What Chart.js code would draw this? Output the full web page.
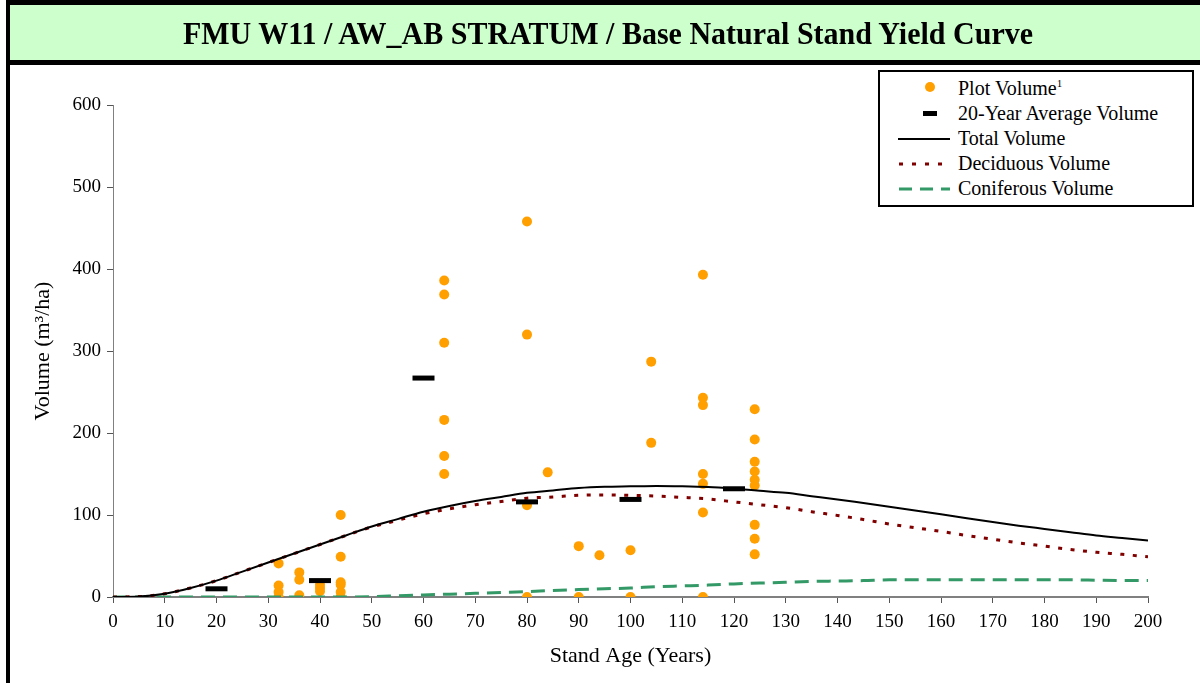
<!DOCTYPE html>
<html>
<head>
<meta charset="utf-8">
<script src="https://cdn.jsdelivr.net/npm/chart.js@4"></script>
<style>
  html, body { margin:0; padding:0; background:#fff; }
  #wrap { position:relative; width:1200px; height:683px; overflow:hidden; font-family:"Liberation Serif","Times New Roman",serif; }
  #titlebox { position:absolute; left:6px; top:0; width:1200px; height:65px; background:#ccffcc; border-top:5px solid #000; border-left:4px solid #000; border-bottom:5px solid #000; box-sizing:border-box; }
  #title { position:absolute; left:0; top:5px; width:1216px; height:55px; line-height:55px; text-align:center; font-weight:bold; font-size:30px; color:#000; transform:scaleY(1.08); }
  #leftbar { position:absolute; left:6px; top:0; width:4px; height:683px; background:#000; }
  #cv { position:absolute; left:0; top:0; }
  #legend { position:absolute; left:878px; top:70px; width:316px; height:137px; border:2px solid #000; box-sizing:border-box; background:#fff; font-size:20px; }
  .row { position:absolute; left:0; height:25px; width:100%; }
  .row span.t { position:absolute; left:78px; top:0px; white-space:nowrap; line-height:25px; }
  .row svg { position:absolute; left:0; top:0; }
  .sup { font-size:11px; position:relative; top:-8px; }
</style>
</head>
<body>
<div id="wrap">
  <canvas id="cv" width="1200" height="683"></canvas>
  <div id="titlebox"></div>
  <div id="title">FMU W11 / AW_AB STRATUM / Base Natural Stand Yield Curve</div>
  <div id="leftbar"></div>
  <div id="legend">
    <div class="row" style="top:4px"><svg width="70" height="25"><circle cx="50" cy="11" r="5" fill="#ff9f00"/></svg><span class="t">Plot Volume<span class="sup">1</span></span></div>
    <div class="row" style="top:29px"><svg width="70" height="25"><rect x="43" y="10" width="14" height="5" fill="#000"/></svg><span class="t">20-Year Average Volume</span></div>
    <div class="row" style="top:54px"><svg width="70" height="25"><line x1="18" y1="13" x2="76" y2="13" stroke="#000" stroke-width="2"/></svg><span class="t">Total Volume</span></div>
    <div class="row" style="top:79px"><svg width="70" height="25"><line x1="19" y1="13" x2="78" y2="13" stroke="#800000" stroke-width="3" stroke-dasharray="4 9"/></svg><span class="t">Deciduous Volume</span></div>
    <div class="row" style="top:104px"><svg width="70" height="25"><line x1="19" y1="13" x2="78" y2="13" stroke="#339966" stroke-width="3" stroke-dasharray="13 8"/></svg><span class="t">Coniferous Volume</span></div>
  </div>
</div>
<script>
// ---- data ----
const curveAges = [0,5,10,15,20,25,30,35,40,45,50,55,60,65,70,75,80,85,90,95,100,105,110,115,120,125,130,135,140,145,150,155,160,165,170,175,180,185,190,195,200];
const totalVolume = [0,0.5,4,11,20,31,42,53,64,75,86,95,104,111,117,122,127,130,133,134.5,135,135.5,135,134,132,129.5,127,123,119,114.5,110,105.5,101,96,91.5,87,83,79,75,72,69];
const deciduousVolume = [0,0.5,4,11,20,31,42,53,64,75,85.5,93.5,101.5,107.5,112.5,116.5,120.5,122,124,124.5,124,123,121.5,119.5,116,112.5,109,104,99.5,94.5,89,84.5,80,75,70.5,66,62,58,54.5,52,49];
const coniferousVolume = [0,0,0,0,0,0,0,0,0,0,0.5,1.5,2.5,3.5,4.5,5.5,6.5,8,9,10,11,12.5,13.5,14.5,16,17,18,19,19.5,20,21,21,21,21,21,21,21,21,20.5,20,20];

const plotAges = [32,32,32,32, 36,36,36, 40,40,40, 44,44,44,44,44,44, 64,64,64,64,64,64, 80,80,80,80, 84, 90,90, 94, 100,100, 104,104, 114,114,114,114,114,114,114, 124,124,124,124,124,124,124,124,124];
const plotVolumes = [41,14,6,0, 30,21,2, 15,11,7, 100,49,18,15,6,0, 386,369,310,216,172,150, 458,320,112,0, 152, 62,0, 51, 57,0, 287,188, 393,243,234,150,138,103,0, 229,192,165,153,143,136,88,71,52];

const avgAges = [20,40,60,80,100,120];
const avgVolumes = [10,20,267,116,119,132];

const xTicks = [0,10,20,30,40,50,60,70,80,90,100,110,120,130,140,150,160,170,180,190,200];
const yTicks = [0,100,200,300,400,500,600];

const pts = (xs, ys) => xs.map((x, i) => ({x: x, y: ys[i]}));

const serif = "'Liberation Serif','Times New Roman',serif";
const tickFont = {family: serif, size: 19};
const titleFont = {family: serif, size: 22};

new Chart(document.getElementById('cv'), {
  type: 'scatter',
  data: {
    datasets: [
      { label:'20-Year Average Volume', data: pts(avgAges, avgVolumes), pointStyle:'line', pointRadius:11, pointHoverRadius:11, borderColor:'#000', borderWidth:5, backgroundColor:'#000', order:0 },
      { label:'Plot Volume', data: pts(plotAges, plotVolumes), pointStyle:'circle', pointRadius:5, pointHoverRadius:5, backgroundColor:'#ff9f00', borderColor:'#ff9f00', borderWidth:0, order:3 },
      { label:'Total Volume', data: pts(curveAges, totalVolume), showLine:true, pointRadius:0, borderColor:'#000', borderWidth:2, cubicInterpolationMode:'monotone', order:1 },
      { label:'Deciduous Volume', data: pts(curveAges, deciduousVolume), showLine:true, pointRadius:0, borderColor:'#800000', borderWidth:3, borderDash:[4,8.5], cubicInterpolationMode:'monotone', order:2 },
      { label:'Coniferous Volume', data: pts(curveAges, coniferousVolume), showLine:true, pointRadius:0, borderColor:'#339966', borderWidth:3, borderDash:[14,8], cubicInterpolationMode:'monotone', order:2 }
    ]
  },
  options: {
    responsive:false,
    animation:false,
    layout:{ padding:{ left:30, right:52, top:105, bottom:14 } },
    plugins:{ legend:{display:false}, tooltip:{enabled:false}, title:{display:false} },
    scales:{
      x:{
        type:'linear', min:0, max:200,
        afterBuildTicks:(s)=>{ s.ticks = xTicks.map(v=>({value:v})); },
        afterFit:(s)=>{ s.height = 72; },
        grid:{ drawOnChartArea:false, drawTicks:true, tickLength:6, color:'#555', tickColor:'#555' },
        border:{ display:true, color:'#808080', width:2 },
        ticks:{ color:'#000', font:tickFont, padding:8, maxRotation:0, autoSkip:false },
        title:{ display:true, text:'Stand Age (Years)', color:'#000', font:titleFont, padding:{top:0, bottom:0} }
      },
      y:{
        type:'linear', min:0, max:600,
        afterBuildTicks:(s)=>{ s.ticks = yTicks.map(v=>({value:v})); },
        afterFit:(s)=>{ s.width = 83; },
        grid:{ drawOnChartArea:false, drawTicks:true, tickLength:6, color:'#555', tickColor:'#555' },
        border:{ display:true, color:'#808080', width:1 },
        ticks:{ color:'#000', font:tickFont, padding:6 },
        title:{ display:true, text:'Volume (m³/ha)', color:'#000', font:titleFont, padding:{top:0, bottom:0} }
      }
    }
  }
});
</script>
</body>
</html>
